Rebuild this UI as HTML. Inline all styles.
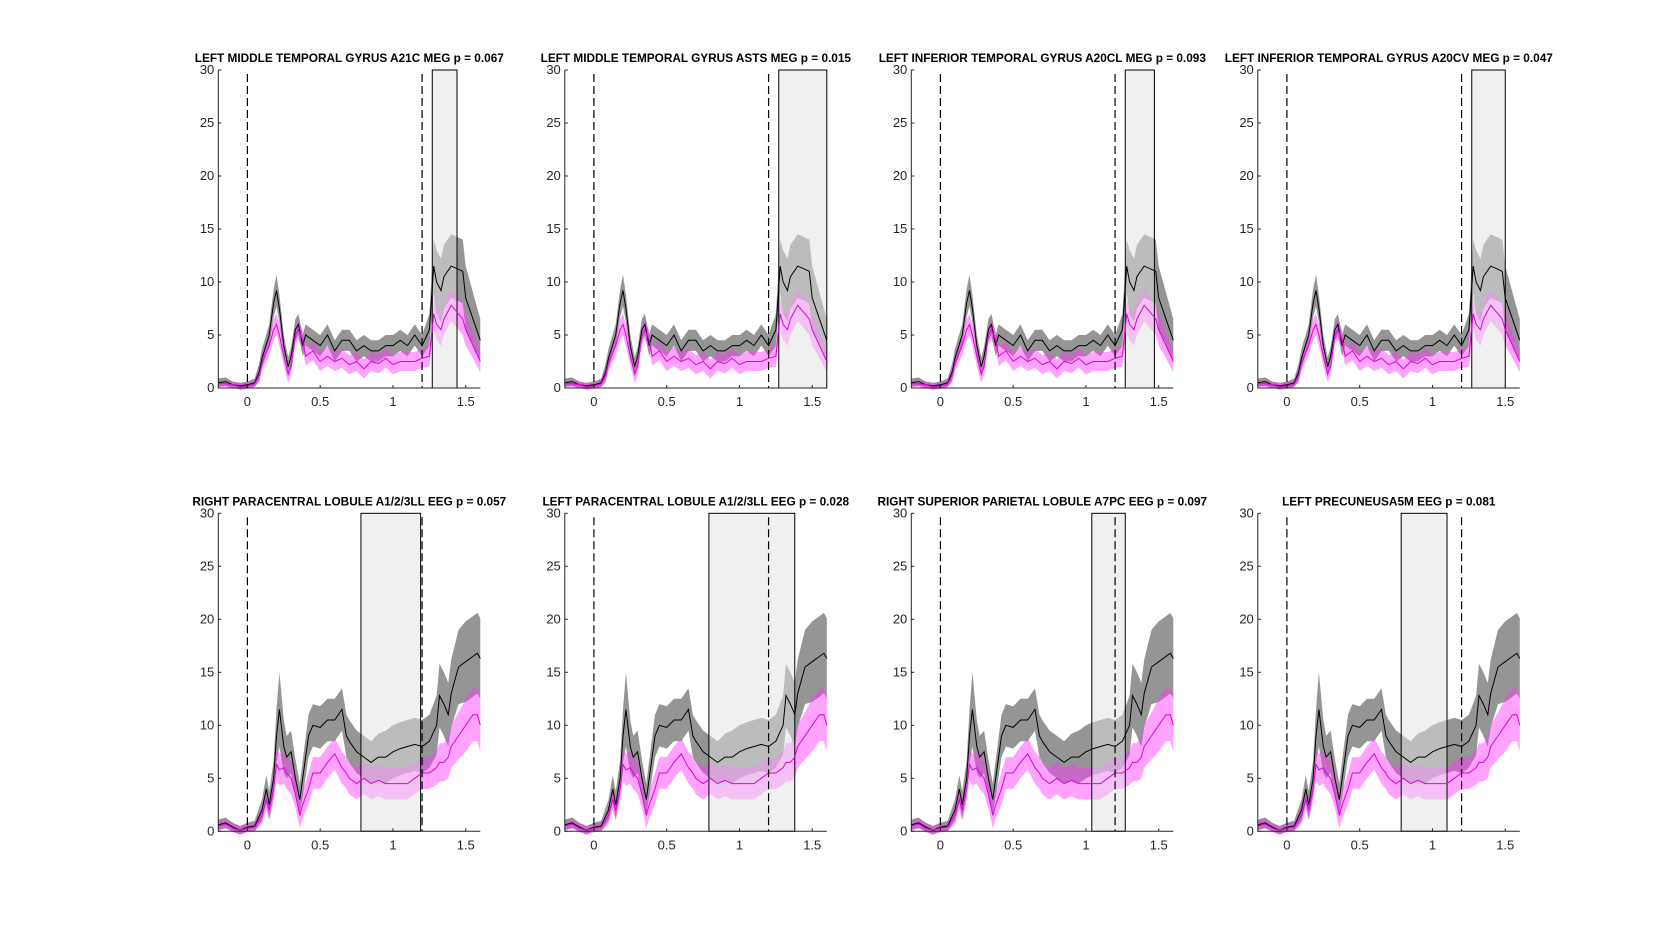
<!DOCTYPE html>
<html><head><meta charset="utf-8"><style>
html,body{margin:0;padding:0;background:#fff;}
svg{display:block;font-family:"Liberation Sans",sans-serif;}
</style></head><body>
<svg id="fig" width="1680" height="935" viewBox="0 0 1680 935" xmlns="http://www.w3.org/2000/svg"></svg>
<script>
// MEG condition (row 1) key points
const megTimes = [-0.2,-0.15,-0.1,-0.05,0,0.05,0.08,0.1,0.15,0.18,0.2,0.22,0.25,0.28,0.3,0.33,0.35,0.38,0.4,0.45,0.5,0.55,0.6,0.65,0.7,0.75,0.8,0.85,0.9,0.95,1.0,1.05,1.1,1.15,1.2,1.25,1.28,1.3,1.33,1.35,1.4,1.45,1.48,1.5,1.55,1.6];
const megBlack = [0.5,0.6,0.3,0.2,0.3,0.5,1.5,2.8,5,8,9.2,7.5,4,2,3,5.5,6,4,5,4.5,4,5,3.5,4.5,4.5,3.5,4,3.5,3.5,4,4,4.5,4,5,4,5.5,11.5,10,9.2,10.5,11.5,11.2,11,8.5,6.5,4.5];
const megBlackErr = [0.4,0.4,0.3,0.3,0.3,0.4,0.8,0.9,1,1.3,1.5,1.3,1,0.9,0.9,1,1,1,1,1,1,1,1,1,1,1,1,1,1,1,1,1,1,1,1,1.5,2.5,3,3,3,3,3,3,3,2.5,2];
const megMag = [0.4,0.4,0.3,0.1,0.2,0.4,1.2,2.4,4,5.5,6,5,3,1.3,2,5,5.5,4.5,3,3.5,2.5,3,2.5,2.8,2.2,2.5,1.8,2.5,2.3,2.8,2.2,2.5,2.5,2.5,2.8,3,7,6,5.5,6.5,7.8,7,6.5,5.5,4,2.5];
const megMagErr = [0.3,0.3,0.3,0.3,0.3,0.3,0.7,0.8,0.9,1,1,1,0.9,0.8,0.8,0.9,0.9,0.9,0.9,0.9,0.9,0.9,0.9,0.9,0.9,0.9,0.9,0.9,0.9,0.9,0.9,0.9,0.9,0.9,0.9,1,1.5,1.5,1.5,1.5,1.5,1.5,1.5,1.5,1.2,1];
// EEG condition (row 2) key points
const eegTimes = [-0.2,-0.15,-0.1,-0.05,0,0.05,0.1,0.13,0.15,0.18,0.2,0.22,0.25,0.27,0.3,0.33,0.36,0.38,0.42,0.45,0.5,0.55,0.6,0.65,0.68,0.7,0.75,0.8,0.85,0.9,0.95,1.0,1.05,1.1,1.15,1.2,1.25,1.3,1.32,1.35,1.38,1.4,1.45,1.5,1.55,1.58,1.6];
const eegBlack = [0.6,0.8,0.4,0.1,0.4,0.5,2,4,2.5,5,9,11.5,8,7,7.5,5,3,5,9,10,9.8,10.5,10.5,11.5,9,8.5,7.5,7,6.5,7,7,7.5,7.8,8,8.2,8,8.5,10,12.8,12,11,13,15.5,16,16.5,16.8,16.3];
const eegBlackErr = [0.5,0.5,0.4,0.4,0.4,0.5,1,1.3,1.3,1.6,2.5,3.5,2.5,2,2,1.8,1.5,1.7,2,2,2,2,2,2,2,2,2,2,2,2.2,2.5,2.5,2.5,2.5,2.5,2.5,2.5,2.8,3,3,3,3.2,3.5,3.8,3.8,3.8,3.8];
const eegMag = [0.5,0.7,0.3,0.1,0.3,0.4,1.5,3,2,4,6.3,5.8,6,5.5,5,3.5,1.5,2.5,4,5.5,5.5,6.5,7.3,6,5.5,5,4.5,5,4.5,4.8,4.5,4.5,4.5,4.5,5,5.5,5.5,6,6.5,6.5,7,8,9,10,11,11,10];
const eegMagErr = [0.4,0.4,0.4,0.4,0.4,0.4,0.8,1,1,1.2,1.5,1.5,1.5,1.5,1.5,1.3,1.2,1.3,1.5,1.5,1.5,1.5,1.5,1.5,1.5,1.5,1.5,1.5,1.5,1.5,1.5,1.5,1.5,1.5,1.5,1.5,1.5,1.6,1.8,1.8,2,2,2.2,2.5,2.5,2.5,2.5];
// panels: titles, shaded windows
const panelTitles = ["LEFT MIDDLE TEMPORAL GYRUS A21C MEG p = 0.067","LEFT MIDDLE TEMPORAL GYRUS ASTS MEG p = 0.015","LEFT INFERIOR TEMPORAL GYRUS A20CL MEG p = 0.093","LEFT INFERIOR TEMPORAL GYRUS A20CV MEG p = 0.047","RIGHT PARACENTRAL LOBULE A1/2/3LL EEG p = 0.057","LEFT PARACENTRAL LOBULE A1/2/3LL EEG p = 0.028","RIGHT SUPERIOR PARIETAL LOBULE A7PC EEG p = 0.097","LEFT PRECUNEUSA5M EEG p = 0.081"];
const windowStart = [1.27,1.27,1.27,1.27,0.78,0.79,1.04,0.785];
const windowEnd = [1.44,1.6,1.47,1.5,1.19,1.38,1.27,1.1];
const yTicks = [0,5,10,15,20,25,30];
const xTicks = [0,0.5,1,1.5];
const xTickLabels = ["0","0.5","1","1.5"];
const eventTimes = [0,1.2];

const NS="http://www.w3.org/2000/svg";
const svg=document.getElementById('fig');
function mk(tag,attrs,parent){const e=document.createElementNS(NS,tag);for(const k in attrs)e.setAttribute(k,attrs[k]);(parent||svg).appendChild(e);return e;}

const W=262,H=318,XMIN=-0.2,XMAX=1.6,YMAX=30;
for(let p=0;p<8;p++){
  const row=Math.floor(p/4),col=p%4;
  const L=218.3+col*346.5, T=row?513.3:70, B=T+H;
  const xs=t=>L+(t-XMIN)/(XMAX-XMIN)*W;
  const ys=v=>B-v/YMAX*H;
  const g=mk('g',{});
  
  
  const times=row?eegTimes:megTimes, bk=row?eegBlack:megBlack, bkE=row?eegBlackErr:megBlackErr, mg=row?eegMag:megMag, mgE=row?eegMagErr:megMagErr;
  const wx0=xs(windowStart[p]), wx1=xs(Math.min(windowEnd[p],XMAX));
  const wb=mk('rect',{x:wx0,y:T,width:wx1-wx0,height:H,fill:'#f0f0f0'},g);
  
  
  function band(m,e,fill,op,name){
    let d='';
    times.forEach((t,i)=>{d+=(i?'L':'M')+xs(t).toFixed(1)+','+ys(m[i]+e[i]).toFixed(1);});
    for(let i=times.length-1;i>=0;i--)d+='L'+xs(times[i]).toFixed(1)+','+ys(Math.max(m[i]-e[i],-0.3)).toFixed(1);
    const el=mk('path',{d:d+'Z',fill:fill,'fill-opacity':op},g);
    
    
  }
  function line(m,stroke,name){
    let d='';times.forEach((t,i)=>{d+=(i?'L':'M')+xs(t).toFixed(1)+','+ys(m[i]).toFixed(1);});
    const el=mk('path',{d:d,fill:'none',stroke:stroke,'stroke-width':1},g);
    
    
  }
  band(bk,bkE,'#7a7a7a',0.8,'black-error-band');
  band(mg,mgE,'#ff33ff',0.45,'magenta-error-band');
  const wo=mk('rect',{x:wx0,y:T,width:wx1-wx0,height:H,fill:'#f0f0f0','fill-opacity':0.45,stroke:'#000','stroke-width':1},g);
  
  
  line(bk,'#000','black-mean-line');
  line(mg,'#dd00dd','magenta-mean-line');
  eventTimes.forEach(t=>{
    const el=mk('line',{x1:xs(t),x2:xs(t),y1:T+4,y2:B,stroke:'#000','stroke-width':1.2,'stroke-dasharray':'8,4'},g);
    
    
  });
  const ax=mk('path',{d:`M${L},${T}L${L},${B}L${L+W},${B}`,fill:'none',stroke:'#262626','stroke-width':1},g);
  
  
  yTicks.forEach(v=>{
    mk('line',{x1:L,x2:L+3,y1:ys(v),y2:ys(v),stroke:'#262626'},g);
    const tx=mk('text',{x:L-4,y:ys(v)+4,'text-anchor':'end','font-size':13,fill:'#262626'},g);
    tx.textContent=v;
    
    
  });
  xTicks.forEach((v,i)=>{
    mk('line',{x1:xs(v),x2:xs(v),y1:B,y2:B-3,stroke:'#262626'},g);
    const tx=mk('text',{x:xs(v),y:B+18,'text-anchor':'middle','font-size':13,fill:'#262626'},g);
    tx.textContent=xTickLabels[i];
    
    
  });
  const tt=mk('text',{x:L+W/2,y:T-8,'text-anchor':'middle','font-size':11.8,'font-weight':'bold',fill:'#000'},g);
  tt.textContent=panelTitles[p];
  
  
}
</script>
</body></html>
